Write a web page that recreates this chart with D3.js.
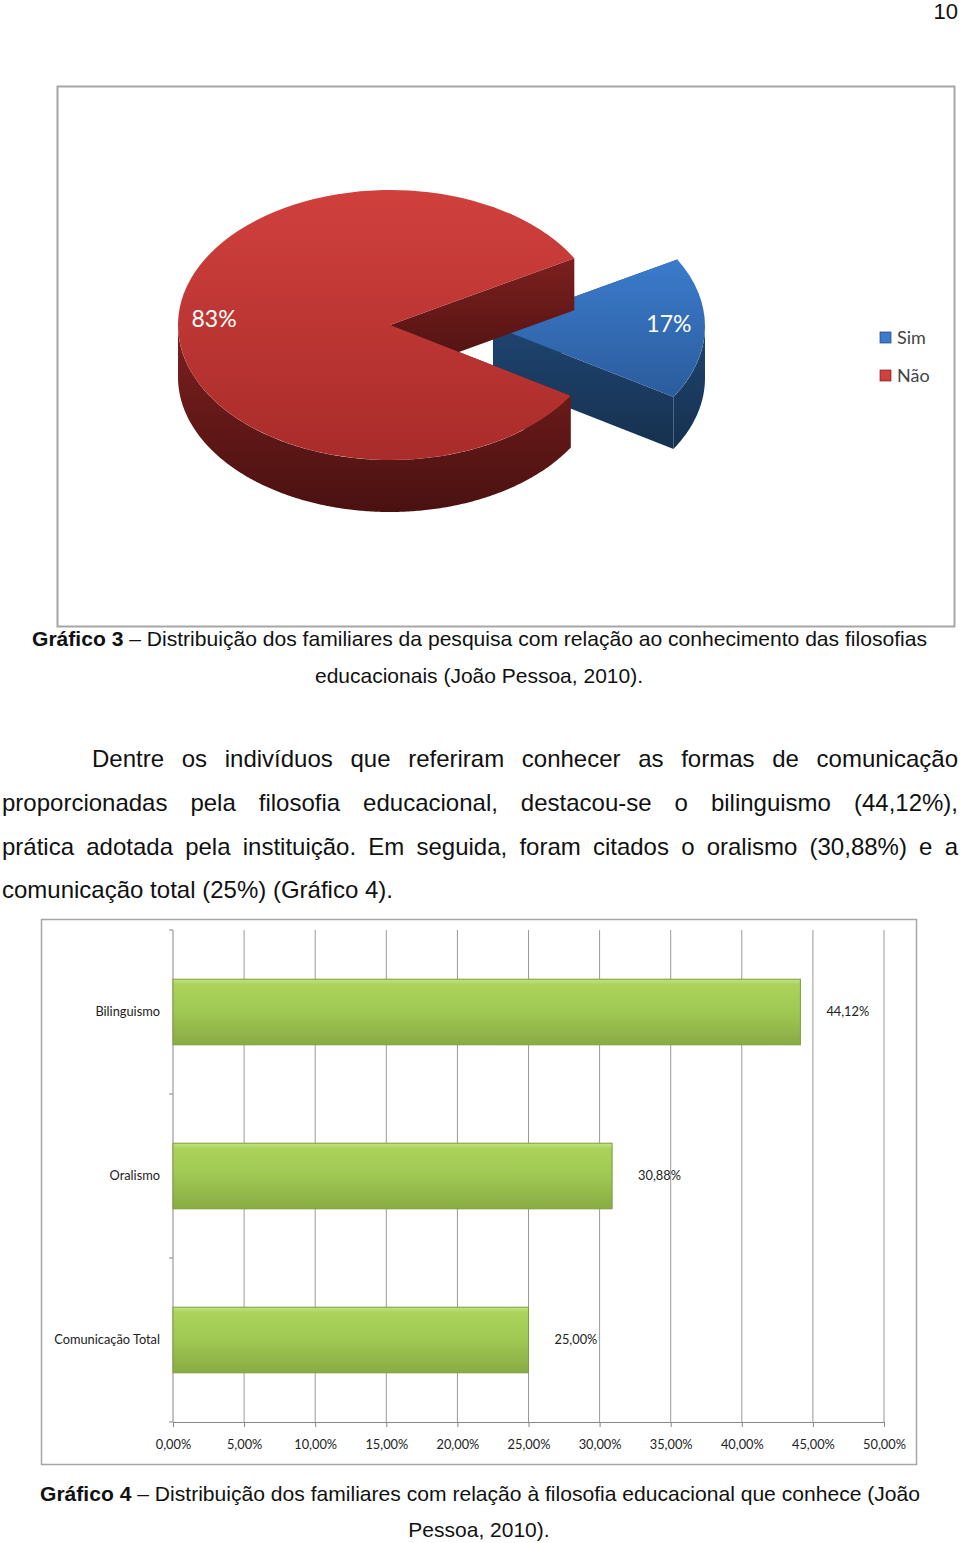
<!DOCTYPE html>
<html>
<head>
<meta charset="utf-8">
<script src="https://cdn.jsdelivr.net/npm/d3@7"></script>
<style>
  body { margin: 0; background: #fff; }
  svg { display: block; }
</style>
</head>
<body>
<svg id="page" width="960" height="1543"></svg>
<script>
// ---- data ----
const pieCategories = ['Sim', 'Não'];
const pieValues = [17, 83];
const pieColors = { 'Sim': ['#3b7bcc', '#2b5c9c', '#1f4470', '#16314f'], 'Não': ['#d0403d', '#a92c2a', '#7c201e', '#4a1111'] };

const barCategories = ['Bilinguismo', 'Oralismo', 'Comunicação Total'];
const barValues = [44.12, 30.88, 25.00];
const xTickValues = [0, 5, 10, 15, 20, 25, 30, 35, 40, 45, 50];

const caption3 = ['Gráfico 3', ' – Distribuição dos familiares da pesquisa com relação ao conhecimento das filosofias', 'educacionais (João Pessoa, 2010).'];
const caption4 = ['Gráfico 4', ' – Distribuição dos familiares com relação à filosofia educacional que conhece (João', 'Pessoa, 2010).'];
const paragraph = [
  'Dentre os indivíduos que referiram conhecer as formas de comunicação',
  'proporcionadas pela filosofia educacional, destacou-se o bilinguismo (44,12%),',
  'prática adotada pela instituição. Em seguida, foram citados o oralismo (30,88%) e a',
  'comunicação total (25%) (Gráfico 4).'
];

const svg = d3.select('#page');
const defs = svg.append('defs');
const ptBR = d3.formatLocale({ decimal: ',', thousands: '.', grouping: [3], currency: ['R$', ''] });

// page number
svg.append('text').attr('x', 958).attr('y', 19).attr('text-anchor', 'end')
  .attr('font-family', 'Liberation Sans, Arial, sans-serif').attr('font-size', 22).attr('fill', '#111').text('10');

// ================= Gráfico 3 : 3D pie =================
svg.append('rect').attr('x', 57.5).attr('y', 86.5).attr('width', 897).attr('height', 540)
  .attr('fill', '#fff').attr('stroke', '#a6a6a6').attr('stroke-width', 2);

const cx = 390, cy = 325, rx = 212, ry = 135, depth = 52, explode = 103;
const share = pieValues[0] / d3.sum(pieValues);
const a0 = Math.PI / 2 - share * Math.PI + 1 * Math.PI / 180;

const pie = d3.pie().sort(null).value(d => d.value).startAngle(a0).endAngle(a0 + 2 * Math.PI);
const pieData = pie(pieCategories.map((c, i) => ({ label: c, value: pieValues[i] })));
const arcTop = d3.arc().innerRadius(0).outerRadius(rx);

// gradients
pieCategories.forEach((c, i) => {
  const col = pieColors[c];
  const gt = defs.append('linearGradient').attr('id', 'top' + i).attr('x1', 0).attr('y1', 0).attr('x2', 0).attr('y2', 1);
  gt.append('stop').attr('offset', '0%').attr('stop-color', col[0]);
  gt.append('stop').attr('offset', '100%').attr('stop-color', col[1]);
  const gw = defs.append('linearGradient').attr('id', 'wall' + i).attr('x1', 0).attr('y1', 0).attr('x2', 0).attr('y2', 1);
  gw.append('stop').attr('offset', '0%').attr('stop-color', col[2]);
  gw.append('stop').attr('offset', '100%').attr('stop-color', col[3]);
});

const px = (ox, a, r) => ox + r * Math.sin(a);
const py = (oy, a, r) => oy - r * (ry / rx) * Math.cos(a);

const pieG = svg.append('g');
pieData.forEach((d, i) => {
  const mid = (d.startAngle + d.endAngle) / 2;
  const ox = cx + (d.data.label === 'Sim' ? explode * Math.sin(mid) : 0);
  const oy = cy - (d.data.label === 'Sim' ? explode * (ry / rx) * Math.cos(mid) : 0);
  const g = pieG.append('g');

  // radial cut faces
  [d.startAngle, d.endAngle].forEach(a => {
    const p = d3.path();
    p.moveTo(ox, oy);
    p.lineTo(px(ox, a, rx), py(oy, a, rx));
    p.lineTo(px(ox, a, rx), py(oy, a, rx) + depth);
    p.lineTo(ox, oy + depth);
    p.closePath();
    g.append('path').attr('d', p.toString()).attr('fill', 'url(#wall' + i + ')');
  });

  // front outer wall (angles where the rim faces the viewer)
  const ranges = [[Math.max(d.startAngle, Math.PI / 2), Math.min(d.endAngle, 3 * Math.PI / 2)],
                  [Math.max(d.startAngle, 2.5 * Math.PI), Math.min(d.endAngle, 3.5 * Math.PI)]];
  ranges.forEach(([s, e]) => {
    if (e <= s) return;
    const steps = d3.range(s, e, 0.01).concat([e]);
    const topPts = steps.map(a => [px(ox, a, rx), py(oy, a, rx)]);
    const botPts = steps.slice().reverse().map(a => [px(ox, a, rx), py(oy, a, rx) + depth]);
    g.append('path').attr('d', d3.line()(topPts.concat(botPts)) + 'Z').attr('fill', 'url(#wall' + i + ')');
  });

  // top face
  g.append('path').attr('d', arcTop(d))
    .attr('transform', `translate(${ox},${oy}) scale(1,${ry / rx})`)
    .attr('fill', 'url(#top' + i + ')');

  // label
  g.append('text')
    .attr('x', px(ox, mid, rx * 0.83)).attr('y', py(oy, mid, rx * 0.83) - 4)
    .attr('text-anchor', 'middle').attr('dy', '0.35em')
    .attr('font-family', 'Lato, sans-serif').attr('font-size', 23).attr('fill', '#fff')
    .text(Math.round(d.data.value / d3.sum(pieValues) * 100) + '%');
});

// legend
const legend = svg.append('g');
pieCategories.forEach((c, i) => {
  const y = 338 + i * 38;
  legend.append('rect').attr('x', 880).attr('y', y - 6).attr('width', 11).attr('height', 11)
    .attr('fill', pieColors[c][0]).attr('stroke', pieColors[c][2]).attr('stroke-width', 0.7);
  legend.append('text').attr('x', 897).attr('y', y).attr('dy', '0.35em')
    .attr('font-family', 'Lato, sans-serif').attr('font-size', 18).attr('fill', '#444').text(c);
});

// ================= captions =================
function caption(lines, y1, y2, x0, x1) {
  const t = svg.append('text').attr('x', x0).attr('y', y1)
    .attr('font-family', 'Liberation Sans Narrow, Liberation Sans, Arial, sans-serif').attr('font-size', 21).attr('fill', '#111')
    .attr('textLength', x1 - x0).attr('lengthAdjust', 'spacingAndGlyphs');
  t.append('tspan').attr('font-weight', 'bold').text(lines[0]);
  t.append('tspan').text(lines[1]);
  svg.append('text').attr('x', 479).attr('y', y2).attr('text-anchor', 'middle')
    .attr('font-family', 'Liberation Sans Narrow, Liberation Sans, Arial, sans-serif').attr('font-size', 21).attr('fill', '#111')
    .text(lines[2]);
}
caption(caption3, 646, 683, 32, 927);
caption(caption4, 1501, 1537, 40, 920);

// ================= justified paragraph =================
function justifyLine(str, x0, x1, y, justify) {
  const words = str.split(' ');
  const g = svg.append('g').attr('font-family', 'Liberation Sans, Arial, sans-serif').attr('font-size', 24).attr('fill', '#111');
  const nodes = words.map(w => g.append('text').attr('y', y).text(w));
  const widths = nodes.map(n => n.node().getComputedTextLength());
  const gap = justify ? (x1 - x0 - d3.sum(widths)) / (words.length - 1) : 6.7;
  let x = x0;
  nodes.forEach((n, i) => { n.attr('x', x); x += widths[i] + gap; });
}
justifyLine(paragraph[0], 92, 958, 767, true);
justifyLine(paragraph[1], 2, 958, 811, true);
justifyLine(paragraph[2], 2, 958, 855, true);
justifyLine(paragraph[3], 2, 958, 898, false);

// ================= Gráfico 4 : bar chart =================
svg.append('rect').attr('x', 41.5).attr('y', 919.5).attr('width', 875).attr('height', 545)
  .attr('fill', '#fff').attr('stroke', '#a6a6a6').attr('stroke-width', 1.5);

const x = d3.scaleLinear().domain([0, 50]).range([173, 884]);
const y = d3.scaleBand().domain(barCategories).range([930, 1422]).paddingInner(0.6).paddingOuter(0.3);
const fmt = v => ptBR.format('.2f')(v) + '%';

const bg = defs.append('linearGradient').attr('id', 'barGrad').attr('x1', 0).attr('y1', 0).attr('x2', 0).attr('y2', 1);
[['0%', '#c4e384'], ['8%', '#abd35c'], ['50%', '#9fc852'], ['100%', '#89ab44']].forEach(s =>
  bg.append('stop').attr('offset', s[0]).attr('stop-color', s[1]));

const chart = svg.append('g').attr('font-family', 'Lato, sans-serif').attr('font-size', 12.8).attr('fill', '#222');

// vertical gridlines
chart.append('g').selectAll('line').data(xTickValues.slice(1)).join('line')
  .attr('x1', d => x(d)).attr('x2', d => x(d)).attr('y1', 930).attr('y2', 1422)
  .attr('stroke', '#9a9a9a').attr('stroke-width', 1);

// x axis
const xAxis = chart.append('g').attr('transform', 'translate(0,1422)')
  .call(d3.axisBottom(x).tickValues(xTickValues).tickSize(5).tickFormat(fmt));
xAxis.select('.domain').attr('stroke', '#888');
xAxis.selectAll('.tick line').attr('stroke', '#888');
xAxis.selectAll('.tick text').attr('font-family', 'Lato, sans-serif').attr('font-size', 12.8).attr('fill', '#222').attr('dy', '1.5em');

// y axis line with boundary ticks
const bounds = barCategories.map(c => y(c) - (y.step() - y.bandwidth()) / 2).concat([930 + 3 * y.step()]);
chart.append('line').attr('x1', 173).attr('x2', 173).attr('y1', 930).attr('y2', 1422).attr('stroke', '#888');
chart.append('g').selectAll('line').data(bounds).join('line')
  .attr('x1', 169).attr('x2', 173).attr('y1', d => d).attr('y2', d => d).attr('stroke', '#888');

// bars
chart.append('g').selectAll('rect').data(barValues).join('rect')
  .attr('x', x(0)).attr('y', (d, i) => y(barCategories[i]))
  .attr('width', d => x(d) - x(0)).attr('height', y.bandwidth())
  .attr('fill', 'url(#barGrad)').attr('stroke', '#7d9c3c').attr('stroke-width', 1);

// category labels
chart.append('g').selectAll('text').data(barCategories).join('text')
  .attr('x', 160).attr('y', d => y(d) + y.bandwidth() / 2).attr('dy', '0.35em')
  .attr('text-anchor', 'end').text(d => d);

// value labels
chart.append('g').selectAll('text').data(barValues).join('text')
  .attr('x', d => x(d) + 26).attr('y', (d, i) => y(barCategories[i]) + y.bandwidth() / 2).attr('dy', '0.35em')
  .text(fmt);
</script>
</body>
</html>
